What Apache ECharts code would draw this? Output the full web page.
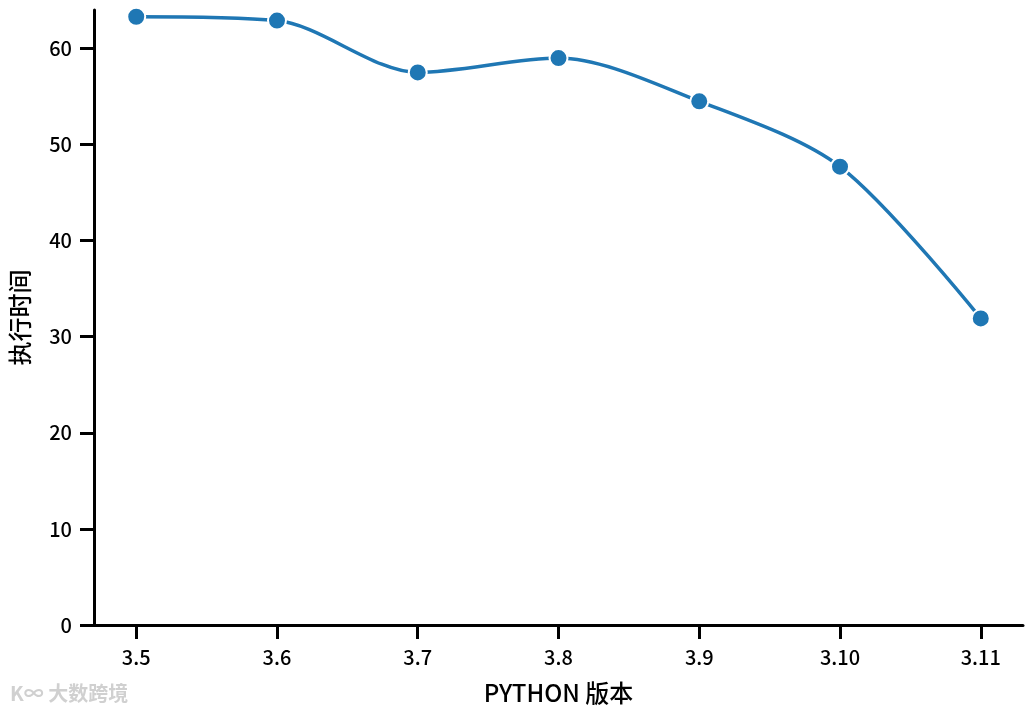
<!DOCTYPE html>
<html>
<head>
<meta charset="utf-8">
<script src="https://cdn.jsdelivr.net/npm/echarts@6/dist/echarts.min.js"></script>
<style>
  html, body { margin: 0; padding: 0; background: #fff; }
  #chart { width: 1033px; height: 717px; }
</style>
</head>
<body>
<div id="chart"></div>
<script>
const versions = ['3.5', '3.6', '3.7', '3.8', '3.9', '3.10', '3.11']
const runTimes = [63.3, 62.9, 57.5, 59.0, 54.5, 47.7, 31.9]
const yTicks = [0, 10, 20, 30, 40, 50, 60]

const font = '"Noto Sans CJK SC", "DejaVu Sans", sans-serif'
const chart = echarts.init(document.getElementById('chart'), null, { renderer: 'canvas' })

const xIdx = versions.map((v, i) => i)

chart.setOption({
  backgroundColor: '#fff',
  animation: false,
  grid: { left: 93, right: 10, top: 10, bottom: 92 },
  xAxis: {
    type: 'value',
    min: -0.3,
    max: 6.3,
    name: 'PYTHON 版本',
    nameLocation: 'middle',
    nameGap: 56,
    nameTextStyle: { color: '#000', fontSize: 24, fontFamily: font, fontWeight: 500 },
    splitLine: { show: false },
    axisLine: { show: true, onZero: false, lineStyle: { color: '#000', width: 3 } },
    axisTick: { show: true, length: 14, lineStyle: { color: '#000', width: 3 }, customValues: xIdx },
    axisLabel: {
      color: '#000', fontSize: 20, fontFamily: font, fontWeight: 500, margin: 22,
      customValues: xIdx,
      formatter: v => versions[Math.round(v)]
    }
  },
  yAxis: {
    type: 'value',
    min: 0,
    max: 64,
    name: '执行时间',
    nameLocation: 'middle',
    nameGap: 62,
    nameTextStyle: { color: '#000', fontSize: 24, fontFamily: font, fontWeight: 500 },
    splitLine: { show: false },
    axisLine: { show: true, onZero: false, lineStyle: { color: '#000', width: 3 } },
    axisTick: { show: true, length: 14, lineStyle: { color: '#000', width: 3 }, customValues: yTicks },
    axisLabel: { color: '#000', fontSize: 20, fontFamily: font, fontWeight: 500, margin: 22, customValues: yTicks }
  },
  series: [{
    type: 'line',
    smooth: 0.3,
    data: runTimes.map((v, i) => [i, v]),
    symbol: 'circle',
    symbolSize: 18,
    lineStyle: { color: '#1f77b4', width: 3.5 },
    itemStyle: { color: '#1f77b4', borderColor: '#fff', borderWidth: 2 }
  }],
  graphic: [{
    type: 'text',
    left: 10,
    top: 683,
    style: { text: 'K∞ 大数跨境', fill: '#d0d0d0', font: 'bold 20px ' + font }
  }]
})
</script>
</body>
</html>
